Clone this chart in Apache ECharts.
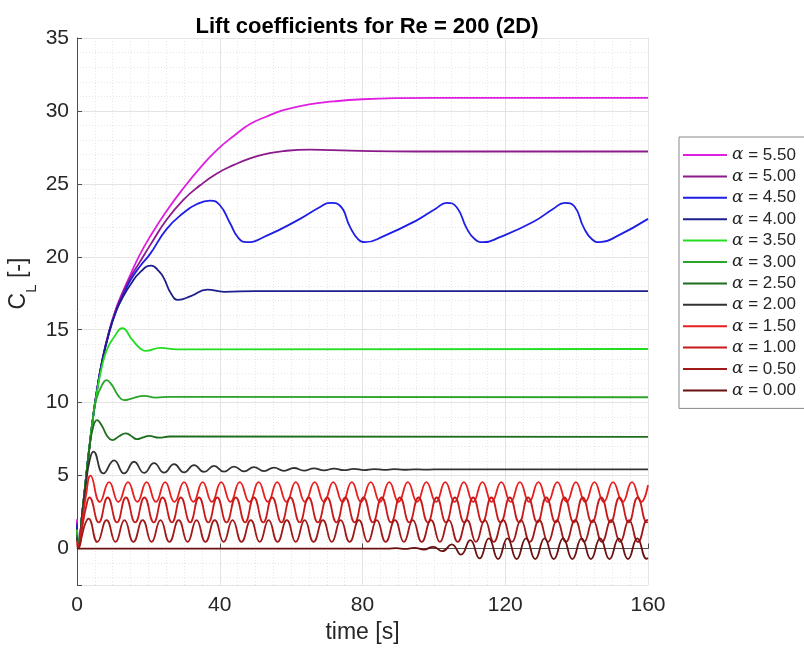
<!DOCTYPE html>
<html><head><meta charset="utf-8">
<script src="https://cdn.jsdelivr.net/npm/echarts@6/dist/echarts.min.js"></script>
<style>html,body{margin:0;padding:0;background:#fff}#c{width:804px;height:648px}</style>
</head><body><div id="c"></div>
<script>
const names = ['α = 5.50','α = 5.00','α = 4.50','α = 4.00','α = 3.50','α = 3.00','α = 2.50','α = 2.00','α = 1.50','α = 1.00','α = 0.50','α = 0.00'];
const colors = ['#e01ee0','#8c1a8c','#1e1ee6','#1e1e8c','#22dd22','#2aa52a','#1e6e1e','#333333','#e61e1e','#c81a1a','#a01818','#6a1010'];
const xTicks = [0, 40, 80, 120, 160];
const yTicks = [0, 5, 10, 15, 20, 25, 30, 35];

const a550 = [[0,2.0],[0.4,0.2],[1.5,2.5],[2.5,4.8],[3.5,7.0],[4.5,9.0],[5.5,10.7],[7,12.8],[9,14.9],[11,16.5],[13,17.7],[15,18.8],[17.5,20.1],[20.5,21.4],[25,23.1],[29.8,24.7],[34.5,26.1],[39.1,27.3],[44,28.3],[48.5,29.1],[53,29.6],[57.8,30.05],[65,30.45],[71.8,30.65],[80,30.8],[90,30.88],[100,30.9],[160,30.9]];
const a500 = [[0,1.8],[0.4,0.2],[1.5,2.5],[2.5,4.8],[3.5,7.0],[4.5,9.0],[5.5,10.7],[7,12.8],[9,14.9],[11,16.4],[13,17.6],[15,18.6],[17.5,19.6],[20.5,20.8],[25,22.5],[29.8,23.9],[34.5,24.9],[39.1,25.7],[44,26.3],[48.5,26.75],[53,27.05],[57.8,27.25],[65.3,27.35],[76.5,27.28],[95,27.22],[160,27.22]];
const a450 = [[0,1.65],[0.4,0.2],[1.5,2.5],[2.5,4.8],[3.5,7.0],[4.5,9.0],[5.5,10.7],[7,12.8],[9,14.8],[11,16.3],[13,17.4],[15,18.4],[17.5,19.3],[20.5,20.2],[25.1,21.9],[29.8,23.0],[33.5,23.6],[37.3,23.85],[40.0,23.55],[42.9,22.3],[45.2,21.3],[47.5,21.0],[53.2,21.45],[62.5,22.6],[68,23.4],[70.9,23.7],[73.7,23.5],[76.5,22.05],[78.8,21.2],[80.7,21.0],[85.8,21.4],[95.2,22.5],[100.5,23.3],[103.6,23.7],[106.4,23.4],[109.2,21.95],[111.5,21.2],[113.8,21.0],[118.5,21.35],[127.9,22.4],[133.5,23.3],[136.7,23.7],[139.4,23.45],[142,22.0],[144.3,21.2],[146.6,21.0],[151.2,21.4],[160,22.6]];
const a400 = [[0,1.45],[0.4,0.2],[1.5,2.5],[2.5,4.8],[3.5,7.0],[4.5,9.0],[5.5,10.7],[7,12.8],[9,14.8],[11,16.3],[13,17.3],[15,18.1],[17.5,18.9],[20.8,19.4],[23,19.0],[24.4,18.5],[26.3,17.5],[28.3,17.05],[31.9,17.3],[36.5,17.75],[41.2,17.6],[50,17.65],[160,17.65]];
const a350 = [[0,1.3],[0.4,0.2],[1.5,2.5],[2.5,4.8],[3.5,7.0],[4.5,9.0],[5.5,10.6],[7,12.5],[8.5,13.7],[10.4,14.5],[12.7,15.1],[15.5,14.3],[17.8,13.7],[19.2,13.55],[23.4,13.75],[28,13.65],[160,13.68]];
const a300 = [[0,1.1],[0.4,0.2],[1.5,2.5],[2.5,4.8],[3.5,7.0],[4.5,9.0],[5.5,10.3],[7,11.2],[8.3,11.55],[9.8,11.2],[11.5,10.5],[13.2,10.17],[15.5,10.3],[18.8,10.47],[22,10.35],[26,10.4],[160,10.37]];
const a250 = [[0,0.9],[0.4,0.2],[1.5,2.5],[2.5,4.7],[3.5,6.9],[4.5,8.3],[5.6,8.8],[7,8.4],[8.5,7.7],[9.9,7.43],[11.8,7.7],[13.6,7.9],[15,7.75],[16.8,7.5],[18.5,7.62],[20.2,7.72],[23,7.6],[26,7.68],[160,7.66]];
const a200 = [[0,0.75],[0.4,0.15],[1.5,2.4],[2.5,4.4],[3.5,6.0],[4.6,6.65],[7.4,5.15],[10.4,6.05],[13.2,5.15],[16.0,5.95],[18.8,5.18],[21.6,5.85],[24.4,5.2],[27.2,5.78],[30.0,5.22],[32.8,5.72],[35.6,5.25],[38.4,5.66],[41.2,5.27],[44.0,5.62],[46.8,5.29],[49.6,5.58],[52.4,5.31],[55.2,5.55],[58.0,5.33],[60.8,5.52],[63.6,5.34],[66.4,5.5],[69.2,5.36],[72.0,5.48],[74.8,5.37],[77.6,5.46],[80.4,5.38],[83.2,5.45],[86.0,5.39],[88.8,5.44],[91.6,5.4],[94.4,5.43],[97.2,5.41],[100,5.42],[160,5.42]];
const a150 = [[0,0.55],[0.4,0.15],[1.5,1.9],[2.5,3.6],[3.8,5.0],[6.4,3.2],[9.0,4.55],[11.6,3.2],[14.3,4.55],[16.9,3.2],[19.5,4.55],[22.1,3.2],[24.7,4.55],[27.3,3.2],[30.0,4.55],[32.6,3.2],[35.2,4.55],[37.8,3.2],[40.4,4.55],[43.0,3.2],[45.6,4.55],[48.3,3.2],[50.9,4.55],[53.5,3.2],[56.1,4.55],[58.7,3.2],[61.3,4.55],[63.9,3.2],[66.6,4.55],[69.2,3.2],[71.8,4.55],[74.4,3.2],[77.0,4.55],[79.6,3.2],[82.3,4.55],[84.9,3.2],[87.5,4.55],[90.1,3.2],[92.7,4.55],[95.3,3.2],[97.9,4.55],[100.6,3.2],[103.2,4.55],[105.8,3.2],[108.4,4.55],[111.0,3.2],[113.6,4.55],[116.2,3.2],[118.9,4.55],[121.5,3.2],[124.1,4.55],[126.7,3.2],[129.3,4.55],[131.9,3.2],[134.6,4.55],[137.2,3.2],[139.8,4.55],[142.4,3.2],[145.0,4.55],[147.6,3.2],[150.2,4.55],[152.9,3.2],[155.5,4.55],[158.1,3.2],[160,4.35]];
const a100 = [[0,0.35],[0.4,0.1],[1.5,1.5],[2.5,2.8],[3.5,3.5],[6.1,1.8],[8.6,3.5],[11.2,1.8],[13.7,3.5],[16.3,1.8],[18.9,3.5],[21.5,1.8],[24.0,3.5],[26.6,1.8],[29.1,3.5],[31.7,1.8],[34.2,3.5],[36.8,1.8],[39.3,3.5],[41.9,1.8],[44.5,3.5],[47.1,1.8],[49.6,3.5],[52.2,1.8],[54.7,3.5],[57.3,1.8],[59.8,3.5],[62.4,1.8],[64.9,3.5],[67.5,1.8],[70.1,3.5],[72.7,1.8],[75.2,3.5],[77.8,1.8],[80.3,3.5],[82.9,1.8],[85.4,3.5],[88.0,1.8],[90.5,3.5],[93.1,1.8],[95.7,3.5],[98.3,1.8],[100.8,3.5],[103.4,1.8],[105.9,3.5],[108.5,1.8],[111.0,3.5],[113.6,1.8],[116.1,3.5],[118.7,1.8],[121.3,3.5],[123.9,1.8],[126.4,3.5],[129.0,1.8],[131.5,3.5],[134.1,1.8],[136.6,3.5],[139.2,1.8],[141.7,3.5],[144.3,1.8],[146.9,3.5],[149.5,1.8],[152.0,3.5],[154.6,1.8],[157.1,3.5],[159.7,1.8],[160,1.82]];
const a050 = [[0,0.2],[0.4,0.05],[1.5,1.0],[2.3,1.7],[3.2,2.05],[5.7,0.45],[8.3,1.95],[10.8,0.45],[13.3,1.95],[15.8,0.45],[18.4,1.95],[20.9,0.45],[23.4,1.95],[25.9,0.45],[28.5,1.95],[31.0,0.45],[33.5,1.95],[36.0,0.45],[38.6,1.95],[41.1,0.45],[43.6,1.95],[46.1,0.45],[48.7,1.95],[51.2,0.45],[53.7,1.95],[56.2,0.45],[58.8,1.95],[61.3,0.45],[63.8,1.95],[66.3,0.45],[68.9,1.95],[71.4,0.45],[73.9,1.95],[76.4,0.45],[79.0,1.95],[81.5,0.45],[84.0,1.95],[86.5,0.45],[89.1,1.95],[91.6,0.45],[94.1,1.95],[96.6,0.45],[99.2,1.95],[101.7,0.45],[104.2,1.95],[106.7,0.45],[109.3,1.95],[111.8,0.45],[114.3,1.95],[116.8,0.45],[119.4,1.95],[121.9,0.45],[124.4,1.95],[126.9,0.45],[129.5,1.95],[132.0,0.45],[134.5,1.95],[137.0,0.45],[139.6,1.95],[142.1,0.45],[144.6,1.95],[147.1,0.45],[149.7,1.95],[152.2,0.45],[154.7,1.95],[157.2,0.45],[159.8,1.95],[160,1.94]];
const a000 = [[0,0],[87,0],[89.5,0.03],[92,-0.03],[94.6,0.05],[97.2,-0.07],[99.8,0.12],[102.4,-0.18],[105,0.28],[107.6,-0.42],[110.2,0.58],[112.8,-0.68],[115.4,0.7],[118,-0.72],[120.6,0.7],[123.2,-0.72],[125.8,0.7],[128.4,-0.72],[131,0.7],[133.6,-0.72],[136.2,0.7],[138.8,-0.72],[141.4,0.7],[144,-0.72],[146.6,0.7],[149.2,-0.72],[151.8,0.7],[154.4,-0.72],[157,0.7],[159.6,-0.7],[160,-0.65]];

const allData = [a550,a500,a450,a400,a350,a300,a250,a200,a150,a100,a050,a000];

const chart = echarts.init(document.getElementById('c'), null, {renderer:'canvas'});
const axisCol = '#4d4d4d', txtCol = '#262626';
const narrow = '"Liberation Sans Narrow", "Liberation Sans", Arial, sans-serif';
chart.setOption({
  animation: false,
  backgroundColor: '#fff',
  title: {
    text: 'Lift coefficients for Re = 200 (2D)',
    left: 362, top: 11, textAlign: 'center',
    textStyle: {fontFamily: narrow, fontWeight: 'bold', fontSize: 22, color: '#000'}
  },
  legend: {
    orient: 'vertical', left: 679, top: 137,
    data: names,
    icon: 'rect', itemWidth: 44, itemHeight: 2, itemGap: 1.4,
    borderColor: '#888', borderWidth: 1, backgroundColor: '#fff',
    padding: [8, 30, 8, 4],
    formatter: n => '{a|α}' + n.slice(1),
    textStyle: {fontFamily: 'Liberation Sans', fontSize: 17, color: txtCol, lineHeight: 20,
      rich: {a: {fontFamily: 'DejaVu Serif', fontStyle: 'italic', fontSize: 17, color: txtCol}}}
  },
  grid: {left: 77, right: 156, top: 38, bottom: 63, containLabel: false, outerBoundsMode: 'none'},
  xAxis: {
    type: 'value', min: 0, max: 160, interval: 40,
    name: 'time [s]', nameLocation: 'middle', nameGap: 36,
    nameTextStyle: {fontFamily: narrow, fontSize: 23, color: txtCol},
    axisLine: {show: true, lineStyle: {color: axisCol, width: 1}},
    axisTick: {show: true, inside: true, length: 5, lineStyle: {color: axisCol}},
    axisLabel: {fontFamily: narrow, fontSize: 21, color: txtCol, margin: 10,
      formatter: v => xTicks.includes(v) ? String(v) : ''},
    splitLine: {show: true, lineStyle: {color: '#e3e3e3', width: 1}},
    minorTick: {show: false, splitNumber: 8},
    minorSplitLine: {show: true, lineStyle: {color: '#e6e6e6', type: [1, 2], width: 1}}
  },
  yAxis: {
    type: 'value', min: -2.5, max: 35, splitNumber: 8,
    name: 'C{s|L} [-]', nameLocation: 'middle', nameGap: 47, nameRotate: 90, nameMoveOverlap: false,
    nameTextStyle: {fontFamily: narrow, fontSize: 23, color: txtCol, padding: [0, 0, 0, 56],
      rich: {s: {fontFamily: narrow, fontSize: 15, color: txtCol, verticalAlign: 'bottom', padding: [0,0,-9,0]}}},
    axisLine: {show: true, lineStyle: {color: axisCol, width: 1}},
    axisTick: {show: true, inside: true, length: 5, lineStyle: {color: axisCol}},
    axisLabel: {fontFamily: narrow, fontSize: 21, color: txtCol, margin: 8,
      formatter: v => yTicks.includes(v) ? String(v) : ''},
    splitLine: {show: true, lineStyle: {color: '#e3e3e3', width: 1}},
    minorTick: {show: false, splitNumber: 5},
    minorSplitLine: {show: true, lineStyle: {color: '#e6e6e6', type: [1, 2], width: 1}}
  },
  series: allData.map((d, i) => ({
    name: names[i], type: 'line', data: d, smooth: true, showSymbol: false, symbol: 'none',
    color: colors[i], lineStyle: {color: colors[i], width: 1.8}, z: 2
  }))
});
</script></body></html>
